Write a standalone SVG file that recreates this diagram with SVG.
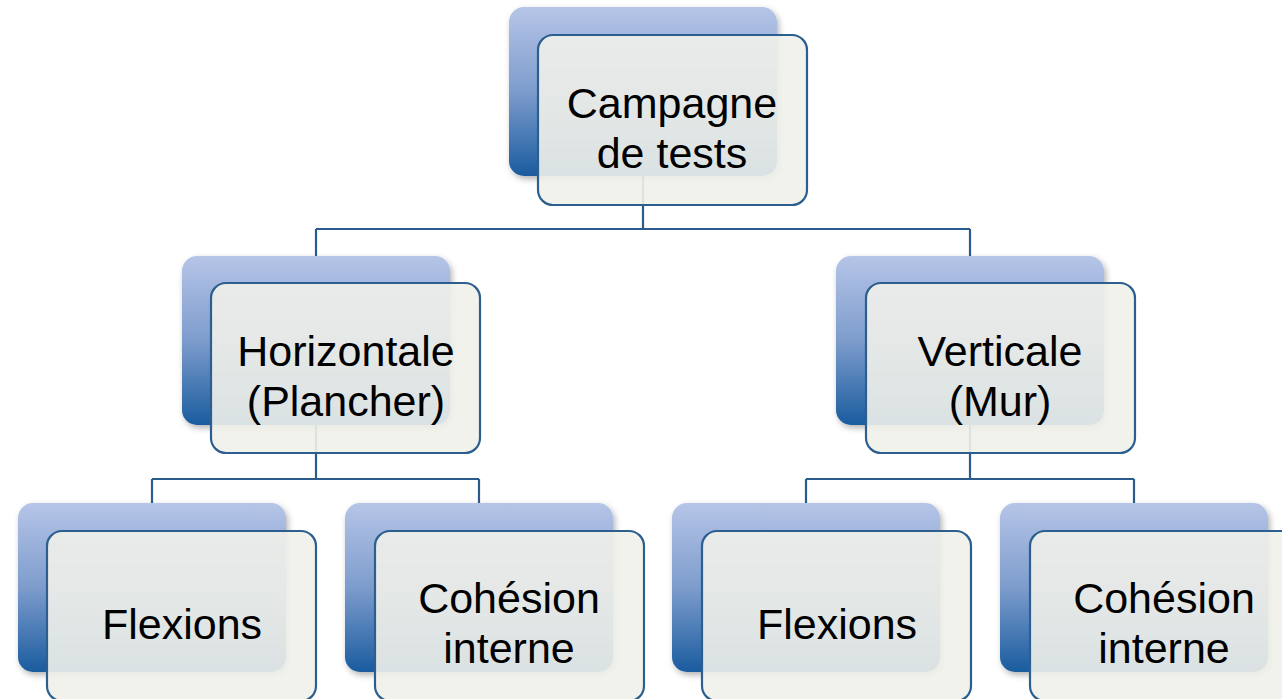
<svg xmlns="http://www.w3.org/2000/svg" width="1282" height="699" viewBox="0 0 1282 699">
<defs>
<linearGradient id="bg" x1="0" y1="0" x2="0" y2="1">
<stop offset="0" stop-color="#b6c5e8"/>
<stop offset="0.5" stop-color="#7d9ccc"/>
<stop offset="1" stop-color="#1a5c9f"/>
</linearGradient>
<filter id="sh" x="-10%" y="-10%" width="125%" height="125%">
<feDropShadow dx="2" dy="3" stdDeviation="3" flood-color="#000" flood-opacity="0.3"/>
</filter>
</defs>
<style>
.back{fill:url(#bg);filter:url(#sh)}
.front{fill:#f1f1ea;fill-opacity:0.9;stroke:#2c5f8f;stroke-width:2.2}
.conn{fill:none;stroke:#2b5b8c;stroke-width:2.2}
text{font-family:"Liberation Sans",Arial,sans-serif;font-size:43px;fill:#000;text-anchor:middle}
</style>
<rect width="1282" height="699" fill="#ffffff"/>
<g id="n-top-back"><rect class="back" x="509" y="7" width="268" height="169" rx="15"/></g>
<g id="n-hor-back"><rect class="back" x="182" y="256" width="268" height="169" rx="15"/></g>
<g id="n-ver-back"><rect class="back" x="836" y="256" width="268" height="169" rx="15"/></g>
<g id="n-b1-back"><rect class="back" x="18" y="503" width="268" height="169" rx="15"/></g>
<g id="n-b2-back"><rect class="back" x="345" y="503" width="268" height="169" rx="15"/></g>
<g id="n-b3-back"><rect class="back" x="672" y="503" width="268" height="169" rx="15"/></g>
<g id="n-b4-back"><rect class="back" x="1000" y="503" width="268" height="169" rx="15"/></g>
<g id="connectors">
<path class="conn" d="M643 176V229M316 229H970M316 229V256M970 229V256"/>
<path class="conn" d="M316 425V479M152 479H479M152 479V503M479 479V503"/>
<path class="conn" d="M970 425V479M806 479H1134M806 479V503M1134 479V503"/>
</g>
<g id="node-campagne">
<rect class="front" x="538" y="35" width="269" height="170" rx="15"/>
<text x="672" y="118">Campagne</text>
<text x="672" y="168">de tests</text>
</g>
<g id="node-horizontale">
<rect class="front" x="211" y="283" width="269" height="170" rx="15"/>
<text x="346" y="366">Horizontale</text>
<text x="346" y="416">(Plancher)</text>
</g>
<g id="node-verticale">
<rect class="front" x="866" y="283" width="269" height="170" rx="15"/>
<text x="1000" y="366">Verticale</text>
<text x="1000" y="416">(Mur)</text>
</g>
<g id="node-flexions-1">
<rect class="front" x="47" y="531" width="269" height="170" rx="15"/>
<text x="182" y="639">Flexions</text>
</g>
<g id="node-cohesion-1">
<rect class="front" x="375" y="531" width="269" height="170" rx="15"/>
<text x="509" y="613">Cohésion</text>
<text x="509" y="663">interne</text>
</g>
<g id="node-flexions-2">
<rect class="front" x="702" y="531" width="269" height="170" rx="15"/>
<text x="837" y="639">Flexions</text>
</g>
<g id="node-cohesion-2">
<rect class="front" x="1030" y="531" width="269" height="170" rx="15"/>
<text x="1164" y="613">Cohésion</text>
<text x="1164" y="663">interne</text>
</g>
</svg>
